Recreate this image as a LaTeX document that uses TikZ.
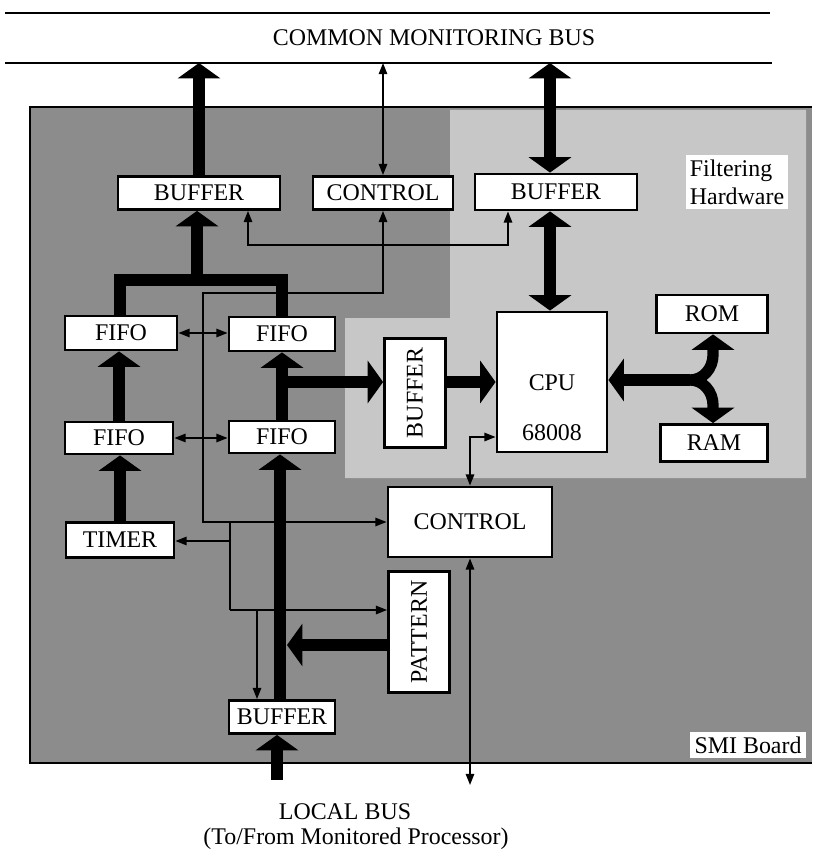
\documentclass[tikz,border=0pt]{standalone}
\usepackage{fontspec}
\setmainfont{Liberation Serif}
\usetikzlibrary{arrows.meta,positioning,calc}
\definecolor{boardgray}{gray}{0.55}
\definecolor{filtergray}{gray}{0.78}

\begin{document}
\begin{tikzpicture}[x=0.025cm, y=-0.025cm,
  blockbox/.style={rectangle, draw, line width=2pt, fill=white, inner sep=0pt, minimum height=0.85cm, align=center, font=\fontsize{17}{20}\selectfont},
  plainlbl/.style={inner sep=0pt, font=\fontsize{17}{20}\selectfont},
  busarr/.style={line width=8pt, line join=miter, -{Triangle[width=30pt,length=11pt]}},
  busdbl/.style={line width=8pt, {Triangle[width=30pt,length=11pt]}-{Triangle[width=30pt,length=11pt]}},
  sigline/.style={line width=1.2pt},
  sigarr/.style={line width=1.2pt, -{Triangle[width=6pt,length=8pt]}},
  sigdbl/.style={line width=1.2pt, {Triangle[width=6pt,length=8pt]}-{Triangle[width=6pt,length=8pt]}}
]
  \useasboundingbox (0,0) rectangle (815,852);

  % monitoring bus
  \draw[line width=2pt] (5,13) -- (770,13);
  \draw[line width=2pt] (5,63) -- (772,63);
  \node[plainlbl] (cmbus) at (434,38) {COMMON MONITORING BUS};

  % board and filtering area
  \fill[boardgray] (30,107) rectangle (812,763);
  \fill[filtergray] (450,110) -- (806,110) -- (806,478) -- (345,478) -- (345,318) -- (450,318) -- cycle;
  \draw[line width=1.5pt] (812,107) -- (30,107) -- (30,763) -- (812,763);
  \node[plainlbl, fill=white, inner sep=3pt, align=left] (filthw) at (737,182) {Filtering\\Hardware};
  \node[plainlbl, fill=white, inner sep=3pt, anchor=east] (smi) at (806,745) {SMI Board};

  % blocks
  \node[blockbox, minimum width=4.05cm, minimum height=0.825cm] (buftl) at (199,193) {BUFFER};
  \node[blockbox, minimum width=3.5cm, minimum height=0.825cm] (ctltop) at (383,193) {CONTROL};
  \node[blockbox, minimum width=4.05cm, minimum height=0.9cm] (buftr) at (556,192) {BUFFER};
  \node[blockbox, minimum width=2.8cm] (fifotl) at (121,333) {FIFO};
  \node[blockbox, minimum width=2.65cm] (fifotr) at (282,334) {FIFO};
  \node[blockbox, minimum width=2.7cm, minimum height=0.8cm] (fifoll) at (119,438) {FIFO};
  \node[blockbox, minimum width=2.65cm, minimum height=0.8cm] (fifolr) at (282,437) {FIFO};
  \node[blockbox, minimum width=1.525cm, minimum height=2.725cm] (bufv) at (415,393) {};
  \node[plainlbl, rotate=90] (bufvtxt) at (bufv) {BUFFER};
  \node[blockbox, minimum width=2.75cm, minimum height=3.5cm] (cpu) at (552,382) {};
  \node[plainlbl] (cputxt) at (552,383) {CPU};
  \node[plainlbl] (cpunum) at (552,433) {68008};
  \node[blockbox, minimum width=2.775cm, minimum height=0.95cm] (rom) at (712,314) {ROM};
  \node[blockbox, minimum width=2.675cm, minimum height=0.925cm] (ram) at (714,443) {RAM};
  \node[blockbox, minimum width=4.1cm, minimum height=1.75cm] (ctlmid) at (470,522) {CONTROL};
  \node[blockbox, minimum width=2.7cm, minimum height=0.875cm] (timer) at (120,540) {TIMER};
  \node[blockbox, minimum width=1.525cm, minimum height=3.025cm] (pattern) at (419,632) {};
  \node[plainlbl, rotate=90] (pattxt) at (pattern) {PATTERN};
  \node[blockbox, minimum width=2.65cm, minimum height=0.825cm] (bufbot) at (282,717) {BUFFER};

  \node[plainlbl] (lbus) at (345,812) {LOCAL BUS};
  \node[plainlbl] (lbus2) at (356,839) {(To/From Monitored Processor)};

  % junction points
  \coordinate (busA) at (199,63);
  \coordinate (busB) at (383,63);
  \coordinate (busC) at (550,63);
  \coordinate (treeL) at (120,280);
  \coordinate (treeM) at (197,280);
  \coordinate (treeR) at (282,280);
  \coordinate (bc1) at (248,245);
  \coordinate (bc2) at (508,245);
  \coordinate (c1) at (383,293);
  \coordinate (c2) at (203,293);
  \coordinate (c3) at (203,522);
  \coordinate (f1) at (203,333);
  \coordinate (f2) at (203,438);
  \coordinate (t1) at (230,522);
  \coordinate (t2) at (230,541);
  \coordinate (t3) at (230,610);
  \coordinate (t4) at (257,610);
  \coordinate (r1) at (282,382);
  \coordinate (r2) at (446,382);
  \coordinate (m1) at (690,380);
  \coordinate (m2) at (713,355);
  \coordinate (m3) at (713,405);
  \coordinate (k1) at (470,437);
  \coordinate (p1) at (287,645);
  \coordinate (lb) at (277,780);
  \coordinate (lc) at (470,785);
  \coordinate (vb) at (280,600);

  % wide data paths
  \draw[busarr] (buftl) -- (busA);
  \draw[busdbl] (busC |- buftr.north) -- (busC);
  \draw[busdbl] (busC |- buftr.south) -- (busC |- cpu.north);
  \draw[line width=8pt, line join=miter] (treeL |- fifotl.north) -- (treeL) -- (treeR) -- (treeR |- fifotr.north);
  \draw[busarr] (treeM) -- (treeM |- buftl.south);
  \draw[busarr] (fifoll.north) -- (fifoll.north |- fifotl.south);
  \draw[busarr] (timer.north) -- (timer.north |- fifoll.south);
  \draw[busarr] (fifolr.north) -- (fifotr.south);
  \draw[busarr] (vb |- bufbot.north) -- (vb |- fifolr.south);
  \draw[busarr] (lb) -- (lb |- bufbot.south);
  \draw[busarr] (r1) -- (r1 -| bufv.west);
  \draw[busarr] (r2) -- (r2 -| cpu.west);
  \draw[busarr] (m1) -- (m1 -| cpu.east);
  \draw[busarr] (m1) to[out=0,in=-90] (m2) -- (m2 |- rom.south);
  \draw[busarr] (m1) to[out=0,in=90] (m3) -- (m3 |- ram.north);
  \draw[busarr] (p1 -| pattern.west) -- (p1);

  % control lines
  \draw[sigdbl] (ctltop) -- (busB);
  \draw[sigdbl] (bc1 |- buftl.south) -- (bc1) -- (bc2) -- (bc2 |- buftr.south);
  \draw[sigdbl] (ctltop.south) -- (c1) -- (c2) -- (c3) -- (c3 -| ctlmid.west);
  \draw[sigarr] (f1) -- (f1 -| fifotl.east);
  \draw[sigarr] (f1) -- (f1 -| fifotr.west);
  \draw[sigarr] (f2) -- (f2 -| fifoll.east);
  \draw[sigarr] (f2) -- (f2 -| fifolr.west);
  \draw[sigline] (t1) -- (t3);
  \draw[sigarr] (t3) -- (t3 -| pattern.west);
  \draw[sigarr] (t2) -- (t2 -| timer.east);
  \draw[sigarr] (t4) -- (t4 |- bufbot.north);
  \draw[sigdbl] (k1 -| cpu.west) -- (k1) -- (ctlmid.north);
  \draw[sigdbl] (ctlmid.south) -- (lc);
\end{tikzpicture}
\end{document}
